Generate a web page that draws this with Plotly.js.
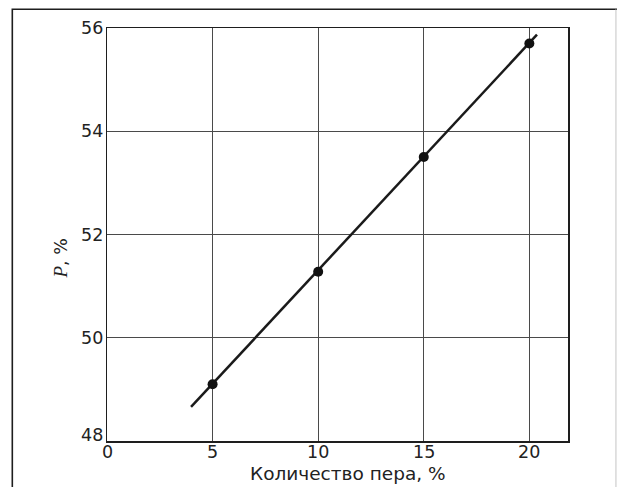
<!DOCTYPE html>
<html><head><meta charset="utf-8">
<script src="https://cdn.plot.ly/plotly-3.0.1.min.js"></script>
<style>body{margin:0;background:#fff}</style>
</head><body>
<div id="chart" style="width:617px;height:487px"></div>
<script>
const featherPct = [5, 10, 15, 20];
const pValues = [49.1, 51.28, 53.5, 55.7];
const fitX = [3.98, 20.36];
const fitY = [48.66, 55.87];
const xTicks = [0, 5, 10, 15, 20];
const yTicks = [48, 50, 52, 54, 56];

const FONT = 'DejaVu Sans, Verdana, sans-serif';
const traces = [
  {x: fitX, y: fitY, mode: 'lines', line: {color: '#1a1a1a', width: 2.5}, hoverinfo: 'skip'},
  {x: featherPct, y: pValues, mode: 'markers', marker: {color: '#111', size: 10}}
];

const annotations = yTicks.map(v => ({
  x: 0, xref: 'paper', y: v, yref: 'y', text: String(v), showarrow: false,
  xanchor: 'right', yanchor: 'middle', xshift: -2, yshift: v === 48 ? 6 : 0,
  font: {family: FONT, size: 17.5, color: '#222'}
}));
xTicks.forEach(v => annotations.push({
  x: v, xref: 'x', y: 0, yref: 'paper', text: String(v), showarrow: false,
  xanchor: 'center', yanchor: 'top', yshift: 1,
  font: {family: FONT, size: 17.5, color: '#222'}
}));
annotations.push({
  x: 0.5233, y: -0.0775, xref: 'paper', yref: 'paper', showarrow: false,
  xanchor: 'center', yanchor: 'middle', text: 'Количество пера, %',
  font: {family: FONT, size: 18.5, color: '#222'}
});
annotations.push({
  x: -0.1008, y: 0.4407, xref: 'paper', yref: 'paper', showarrow: false,
  xanchor: 'center', yanchor: 'middle', textangle: -90,
  text: '<i><span style="font-family:Liberation Serif, serif;font-size:19px">P</span></i>, %',
  font: {family: FONT, size: 17.5, color: '#222'}
});

const layout = {
  width: 617, height: 487,
  margin: {l: 106.5, r: 49, t: 28, b: 46},
  showlegend: false,
  paper_bgcolor: '#fff', plot_bgcolor: '#fff',
  font: {family: FONT, color: '#222', size: 17.5},
  xaxis: {
    range: [0, 21.83], tickvals: xTicks, showticklabels: false,
    showgrid: true, gridcolor: '#4a4a4a', gridwidth: 1, zeroline: false,
    showline: true, linecolor: '#1e1e1e', linewidth: 1.5, mirror: true,
    ticks: ''
  },
  yaxis: {
    range: [48, 56], tickvals: yTicks, showticklabels: false,
    showgrid: true, gridcolor: '#4a4a4a', gridwidth: 1, zeroline: false,
    showline: true, linecolor: '#1e1e1e', linewidth: 1.5, mirror: true,
    ticks: ''
  },
  annotations: annotations,
  shapes: [{
    type: 'path', xref: 'paper', yref: 'paper',
    path: 'M -0.2054 -0.2 L -0.2054 1.0453 L 1.11 1.0453',
    line: {color: '#1e1e1e', width: 1.6}
  }, {
    type: 'line', xref: 'paper', yref: 'paper',
    x0: 1.104, x1: 1.104, y0: -0.2, y1: 1.0453,
    line: {color: '#c4c4c4', width: 1}
  }]
};
Plotly.newPlot('chart', traces, layout, {displayModeBar: false, staticPlot: true});
</script>
</body></html>
